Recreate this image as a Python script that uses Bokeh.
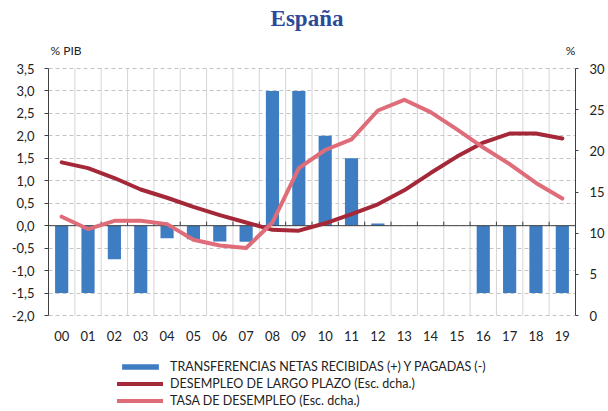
from bokeh.plotting import figure
from bokeh.models import (Range1d, LinearAxis, FixedTicker, Label, Legend, LegendItem, ColumnDataSource)
from bokeh.embed import file_html
from bokeh.resources import INLINE
from bokeh.core.properties import value

years = ["00", "01", "02", "03", "04", "05", "06", "07", "08", "09",
         "10", "11", "12", "13", "14", "15", "16", "17", "18", "19"]
transferencias = [-1.5, -1.5, -0.75, -1.5, -0.28, -0.3, -0.35, -0.36, 3.0, 3.0,
                  2.0, 1.5, 0.05, 0.0, 0.0, 0.0, -1.5, -1.5, -1.5, -1.5]
desempleo_largo = [18.6, 17.9, 16.7, 15.3, 14.3, 13.2, 12.2, 11.3, 10.4, 10.3,
                   11.2, 12.3, 13.5, 15.2, 17.3, 19.3, 21.0, 22.1, 22.1, 21.5]
tasa_desempleo = [12.0, 10.5, 11.5, 11.5, 11.1, 9.2, 8.5, 8.2, 11.3, 17.9,
                  20.1, 21.4, 24.9, 26.2, 24.7, 22.6, 20.4, 18.4, 16.1, 14.2]
left_ticks = [-2.0, -1.5, -1.0, -0.5, 0.0, 0.5, 1.0, 1.5, 2.0, 2.5, 3.0, 3.5]
right_ticks = [0, 5, 10, 15, 20, 25, 30]

FONT = "Lato"
BLUE = "#3f7dc2"
DARK = "#a52838"
PINK = "#df6c79"
AX = "#404040"
TXT = "#222222"

# layout (pixels): the frame fills the full figure height
W = 607
H = 409
TOP = 68      # pixels from figure top to the 3,5 line
AXIS_H = 247  # pixels from 3,5 to -2,0
lo, hi = left_ticks[0], left_ticks[-1]
rlo, rhi = right_ticks[0], right_ticks[-1]
k = (hi - lo) / AXIS_H
rk = (rhi - rlo) / AXIS_H
y_top = hi + TOP * k
y_bot = hi - (H - TOP) * k
r_top = rhi + TOP * rk
r_bot = rhi - (H - TOP) * rk

xc = [i + 0.5 for i in range(len(years))]
src = ColumnDataSource(dict(x=xc, t=transferencias, l=desempleo_largo, u=tasa_desempleo,
                            lab=years, yl=[lo] * len(years)))

p = figure(width=W, height=H, output_backend="svg", toolbar_location=None,
           x_range=Range1d(0, len(years)), y_range=Range1d(y_bot, y_top),
           min_border_left=48, min_border_right=30, min_border_top=0, min_border_bottom=0)
p.outline_line_color = None
p.extra_y_ranges = {"right": Range1d(r_bot, r_top)}
p.xaxis.visible = False

# left axis
p.yaxis.ticker = FixedTicker(ticks=left_ticks)
p.yaxis.bounds = (lo, hi)
p.yaxis.major_label_overrides = {v: ("%.1f" % v).replace(".", ",") for v in left_ticks}
p.yaxis.axis_line_color = AX
p.yaxis.major_tick_line_color = AX
p.yaxis.major_tick_out = 4
p.yaxis.major_tick_in = 0
p.yaxis.minor_tick_line_color = None
p.yaxis.major_label_standoff = 10
p.yaxis.major_label_text_font = FONT
p.yaxis.major_label_text_font_size = "13px"
p.yaxis.major_label_text_color = TXT

ra = LinearAxis(y_range_name="right", ticker=FixedTicker(ticks=right_ticks), bounds=(rlo, rhi))
ra.axis_line_color = AX
ra.major_tick_line_color = AX
ra.major_tick_out = 3
ra.major_tick_in = 0
ra.minor_tick_line_color = None
ra.major_label_standoff = 11
ra.major_label_text_font = FONT
ra.major_label_text_font_size = "13px"
ra.major_label_text_color = TXT
p.add_layout(ra, "right")

# grids
p.xgrid.visible = False
bx = list(range(1, len(years)))
p.segment(x0=bx, x1=bx, y0=[lo] * len(bx), y1=[hi] * len(bx), line_color="#d4d4d4", line_width=1)
p.ygrid.ticker = FixedTicker(ticks=left_ticks)
p.ygrid.grid_line_color = "#c4c4c4"
p.ygrid.grid_line_dash = "4 3"

bars = p.vbar(x="x", top="t", bottom=0, width=0.5, source=src, fill_color=BLUE, line_color=None)

p.segment(x0=[0], x1=[len(years)], y0=[0], y1=[0], line_color=AX, line_width=1)
p.segment(x0=bx, x1=bx, y0=[0] * len(bx), y1=[0.09] * len(bx), line_color=AX, line_width=1)

l1 = p.line(x="x", y="l", source=src, y_range_name="right", line_color=DARK, line_width=4, line_join="round", line_cap="round")
l2 = p.line(x="x", y="u", source=src, y_range_name="right", line_color=PINK, line_width=4, line_join="round", line_cap="round")

# category labels below the -2,0 line
p.text(x="x", y="yl", text="lab", source=src, y_offset=20, text_align="center", text_baseline="middle",
       text_font=value(FONT), text_font_size="13px", text_color=TXT)

legend = Legend(items=[
    LegendItem(label="TRANSFERENCIAS NETAS RECIBIDAS (+) Y PAGADAS (-)", renderers=[bars]),
    LegendItem(label="DESEMPLEO DE LARGO PLAZO (Esc. dcha.)", renderers=[l1]),
    LegendItem(label="TASA DE DESEMPLEO (Esc. dcha.)", renderers=[l2]),
], location=(69, 1))
legend.glyph_width = 46
legend.glyph_height = 7
legend.label_height = 16
legend.spacing = 1
legend.padding = 0
legend.margin = 0
legend.label_standoff = 7
legend.label_text_font = FONT
legend.label_text_font_size = "12.5px"
legend.label_text_color = TXT
legend.border_line_alpha = 0
legend.background_fill_alpha = 0
p.add_layout(legend)

p.add_layout(Label(x=len(years) / 2, y=hi, y_offset=50, x_offset=-5, text="España", text_align="center",
                   text_baseline="middle", text_font="Liberation Serif", text_font_style="bold",
                   text_font_size="23px", text_color="#2a4a9a"))
p.add_layout(Label(x=0, y=hi, x_offset=2, y_offset=18, text="% PIB", text_align="left",
                   text_baseline="middle", text_font=FONT, text_font_size="12px", text_color=TXT))
p.add_layout(Label(x=len(years), y=hi, x_offset=-5, y_offset=18, text="%", text_align="center",
                   text_baseline="middle", text_font=FONT, text_font_size="12px", text_color=TXT))

open("out.html", "w").write(file_html(p, INLINE))
